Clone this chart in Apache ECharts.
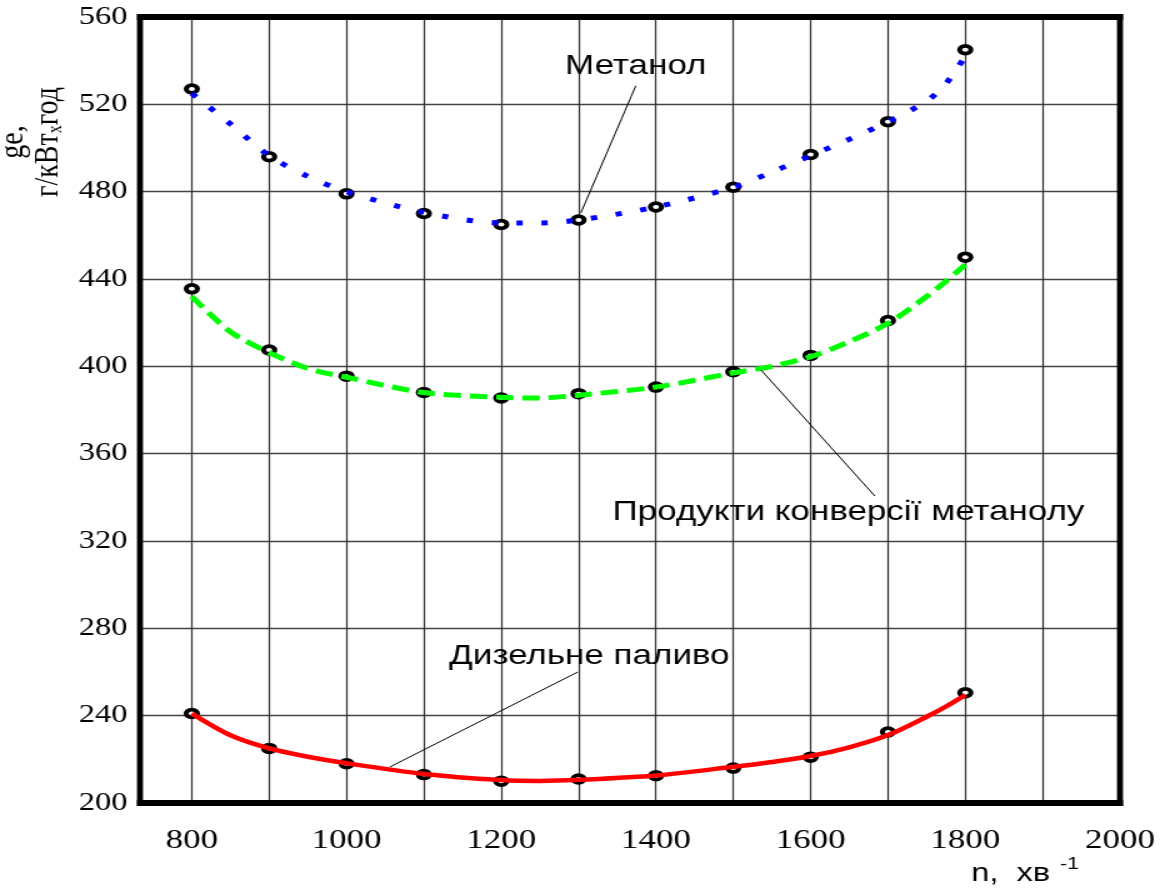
<!DOCTYPE html>
<html>
<head>
<meta charset="utf-8">
<script src="https://cdn.jsdelivr.net/npm/echarts@6/dist/echarts.min.js"></script>
<style>
  html, body { margin: 0; padding: 0; background: #fff; overflow: hidden; }
  #wrap { width: 1169px; height: 889px; overflow: hidden; }
  /* the plot is laid out narrower and widened horizontally, like the printed figure */
  #chart { width: 935px; height: 889px; transform: scaleX(1.25); transform-origin: 0 0; }
</style>
</head>
<body>
<div id="wrap"><div id="chart"></div></div>
<script>
// crankshaft speed, min^-1, of the test points
const speeds = [800, 900, 1000, 1100, 1200, 1300, 1400, 1500, 1600, 1700, 1800];

// measured specific fuel consumption g_e, g/(kW*h)
const methanolMeasured   = [527, 496, 479, 470, 465, 467, 473, 482, 497, 512, 545];
const conversionMeasured = [435.5, 407.5, 395.5, 388, 385.5, 387.5, 390.5, 397.5, 405, 421, 450];
const dieselMeasured     = [241, 225, 218, 213, 210, 211, 212.5, 216, 221, 232.5, 250.5];

// approximating curves through the measurements
const fitSpeeds     = [800, 850, 900, 950, 1000, 1100, 1200, 1250, 1300, 1400, 1500, 1550, 1600, 1650, 1700, 1750, 1775, 1800];
const methanolFit   = [525, 511, 496.5, 487, 480, 470.5, 465.7, 465.7, 467, 473, 482, 489, 496.5, 504, 512, 521.5, 529.5, 542];
const conversionFit = [432, 415.8, 406.3, 399, 395, 388, 385.8, 385.5, 386.8, 390.5, 397, 400, 404.4, 411.3, 419.7, 432, 439, 446.5];
const dieselFit     = [241, 231, 225, 221.2, 218.2, 213.3, 210.5, 210.1, 210.6, 212.6, 216.6, 218.8, 221.5, 225.5, 231.1, 239.5, 244.2, 249.5];

// axis ticks
const xLabelValues = [800, 1000, 1200, 1400, 1600, 1800, 2000];
const xGridValues  = [800, 900, 1000, 1100, 1200, 1300, 1400, 1500, 1600, 1700, 1800, 1900];

// captions and their leader lines, in data units: [x, y]
const captions = [
  { text: 'Метанол',                     at: [1374, 537.5], from: [1374, 528.5], to: [1303, 470.3] },
  { text: 'Продукти конверсії метанолу', at: [1649, 333],   from: [1683, 340.6], to: [1536, 398.3] },
  { text: 'Дизельне паливо',             at: [1314, 267],   from: [1299, 260],   to: [1056, 216.5] }
];

const xRange = [733, 2000];
const yRange = [200, 560];

const pairs = (xs, ys) => xs.map((x, i) => [x, ys[i]]);

const leader = c => ({
  silent: true, symbol: ['none', 'none'], animation: false, z: 6,
  label: { show: false },
  lineStyle: { color: '#000', width: 1, type: 'solid' },
  emphasis: { disabled: true },
  data: [[{ coord: c.from }, { coord: c.to }]]
});

// measurement markers: a black ring made of a dark ellipse with a small white core
const markerSeries = (name, values) => [
  { name: name, type: 'scatter', data: pairs(speeds, values), symbol: 'circle', symbolSize: [13, 11.5],
    itemStyle: { color: '#000', borderWidth: 0, opacity: 1 }, z: 3, silent: true },
  { name: name + ' ', type: 'scatter', data: pairs(speeds, values), symbol: 'circle', symbolSize: [5, 4],
    itemStyle: { color: '#fff', borderWidth: 0, opacity: 1 }, z: 3, silent: true }
];

const chart = echarts.init(document.getElementById('chart'));

chart.setOption({
  animation: false,
  grid: { left: 112, right: 39, top: 17, bottom: 86, outerBoundsMode: 'none', containLabel: false },
  xAxis: {
    type: 'value', min: xRange[0], max: xRange[1],
    axisLine: { show: false }, axisTick: { show: false }, splitLine: { show: false },
    axisLabel: {
      customValues: xLabelValues, formatter: v => String(v),
      fontFamily: 'Liberation Serif', fontSize: 28, color: '#000', margin: 24
    }
  },
  yAxis: {
    type: 'value', min: yRange[0], max: yRange[1], interval: 40,
    axisLine: { show: false }, axisTick: { show: false },
    splitLine: { lineStyle: { color: '#444', width: 1.4 } },
    axisLabel: { fontFamily: 'Liberation Serif', fontSize: 26, color: '#000', margin: 10, formatter: v => String(v) },
    name: '{b|ge,}\n{b|г/кВт}{s|х}{b|год}',
    nameLocation: 'middle', nameRotate: 90, nameGap: 59, nameMoveOverlap: false,
    nameTextStyle: {
      align: 'center', padding: [0, 0, 0, 536],
      rich: {
        b: { fontFamily: 'Liberation Serif', fontSize: 28, color: '#000', lineHeight: 28 },
        s: { fontFamily: 'Liberation Serif', fontSize: 16, color: '#000', lineHeight: 28, verticalAlign: 'bottom' }
      }
    }
  },
  series: [
    {
      // vertical grid lines every 100 min^-1
      name: 'grid', type: 'line', data: [], silent: true,
      markLine: {
        silent: true, symbol: ['none', 'none'], animation: false, z: 1,
        label: { show: false }, emphasis: { disabled: true },
        lineStyle: { color: '#333', width: 1.25, type: 'solid' },
        data: xGridValues.map(v => ({ xAxis: v }))
      }
    },
    ...markerSeries('Метанол, точки', methanolMeasured),
    ...markerSeries('Продукти конверсії, точки', conversionMeasured),
    ...markerSeries('Дизельне паливо, точки', dieselMeasured),
    {
      name: 'Метанол', type: 'line', data: pairs(fitSpeeds, methanolFit), smooth: 0.3, showSymbol: false, z: 4, silent: true,
      lineStyle: { color: '#0000ff', width: 5, type: [5, 15], cap: 'butt' },
      markLine: leader(captions[0])
    },
    {
      name: 'Продукти конверсії метанолу', type: 'line', data: pairs(fitSpeeds, conversionFit), smooth: 0.3, showSymbol: false, z: 4, silent: true,
      lineStyle: { color: '#00ff00', width: 5, type: [14, 7], cap: 'butt' },
      markLine: leader(captions[1])
    },
    {
      name: 'Дизельне паливо', type: 'line', data: pairs(fitSpeeds, dieselFit), smooth: 0.3, showSymbol: false, z: 4, silent: true,
      lineStyle: { color: '#ff0000', width: 4.5, type: 'solid' },
      markLine: leader(captions[2])
    }
  ]
});

// bold plot frame as four solid bands along the axis extents
const tl = chart.convertToPixel({ gridIndex: 0 }, [xRange[0], yRange[1]]);
const br = chart.convertToPixel({ gridIndex: 0 }, [xRange[1], yRange[0]]);
const hw = 3.0;   // half thickness of the top and bottom edges
const vw = 2.4;   // half thickness of the side edges (widened by the page stretch)
const band = (x, y, w, h) => ({
  type: 'rect', z: 9, silent: true,
  shape: { x: x, y: y, width: w, height: h },
  style: { fill: '#000', stroke: null, lineWidth: 0 }
});

const graphics = [
  band(tl[0] - vw, tl[1] - hw, br[0] - tl[0] + 2 * vw, 2 * hw),
  band(tl[0] - vw, br[1] - hw, br[0] - tl[0] + 2 * vw, 2 * hw),
  band(tl[0] - vw, tl[1] - hw, 2 * vw, br[1] - tl[1] + 2 * hw),
  band(br[0] - vw, tl[1] - hw, 2 * vw, br[1] - tl[1] + 2 * hw)
];

// captions placed through the axes
captions.forEach(c => {
  const p = chart.convertToPixel({ gridIndex: 0 }, c.at);
  graphics.push({
    type: 'text', x: p[0], y: p[1], z: 10, silent: true,
    style: { text: c.text, fontFamily: 'Liberation Sans', fontSize: 28, fill: '#000', align: 'center', verticalAlign: 'middle' }
  });
});

// speed axis title
graphics.push(
  {
    type: 'text', x: 777, y: 874, z: 10, silent: true,
    style: { text: 'n,  хв', fontFamily: 'Liberation Sans', fontSize: 26, fill: '#000', align: 'left', verticalAlign: 'middle' }
  },
  {
    type: 'text', x: 848, y: 864, z: 10, silent: true,
    style: { text: '-1', fontFamily: 'Liberation Sans', fontSize: 17, fill: '#000', align: 'left', verticalAlign: 'middle' }
  }
);

chart.setOption({ graphic: graphics });
</script>
</body>
</html>
